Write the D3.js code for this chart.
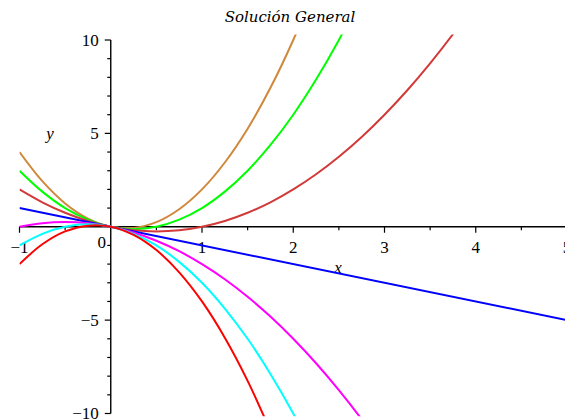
<!DOCTYPE html>
<html>
<head>
<meta charset="utf-8">
<script src="https://d3js.org/d3.v7.min.js"></script>
<style>
  body { margin: 0; background: #ffffff; }
</style>
</head>
<body>
<div id="my_dataviz"></div>
<script>
// sample points (x, then y for each curve)
var xs = [-1, -0.75, -0.5, -0.25, 0, 0.25, 0.5, 0.75, 1, 1.25, 1.5, 1.75, 2, 2.25, 2.5, 2.75, 3, 3.25, 3.5, 3.75, 4];

var yC3  = [4, 2.44, 1.25, 0.44, 0, -0.06, 0.25, 0.94, 2, 3.44, 5.25, 7.44, 10, 12.94];
var yC2  = [3, 1.88, 1, 0.38, 0, -0.13, 0, 0.38, 1, 1.88, 3, 4.38, 6, 7.88, 10, 12.38];
var yC1  = [2, 1.31, 0.75, 0.31, 0, -0.19, -0.25, -0.19, 0, 0.31, 0.75, 1.31, 2, 2.81, 3.75, 4.81, 6, 7.31, 8.75, 10.31, 12];
var lineX = [-1, 5];
var yC0  = [1, -5];
var yCm1 = [0, 0.19, 0.25, 0.19, 0, -0.31, -0.75, -1.31, -2, -2.81, -3.75, -4.81, -6, -7.31, -8.75, -10.31, -12];
var yCm2 = [-1, -0.38, 0, 0.13, 0, -0.38, -1, -1.88, -3, -4.38, -6, -7.88, -10, -12.38];
var yCm3 = [-2, -0.94, -0.25, 0.06, 0, -0.44, -1.25, -2.44, -4, -5.94, -8.25, -10.94];

var curveColors = ["#d0883c", "#00ff00", "#d23a3a", "#0000ff", "#ff00ff", "#00ffff", "#ff0000"];

var xMajor = [-1, 1, 2, 3, 4, 5];
var xMinor = [-0.5, 0.5, 1.5, 2.5, 3.5, 4.5];
var yMajor = [-10, -5, 5, 10];
var yMinor = [-9, -8, -7, -6, -4, -3, -2, -1, 1, 2, 3, 4, 6, 7, 8, 9];

var width = 565, height = 420;

var svg = d3.select("#my_dataviz")
    .append("svg")
    .attr("width", width)
    .attr("height", height);

var x = d3.scaleLinear()
    .domain([-1, 5])
    .range([19.5, 567]);

var y = d3.scaleLinear()
    .domain([-10, 10])
    .range([413.5, 40]);

// title
svg.append("text")
    .attr("x", 290)
    .attr("y", 22)
    .attr("text-anchor", "middle")
    .style("font-family", "DejaVu Serif")
    .style("font-style", "italic")
    .style("font-size", "15px")
    .text("Solución General");

// clip so the curves stop just past the view
svg.append("clipPath")
    .attr("id", "clip")
    .append("rect")
    .attr("x", x(-1))
    .attr("y", y(10.3))
    .attr("width", x(5) - x(-1))
    .attr("height", y(-10.15) - y(10.3));

var series = [
    {xv: xs, yv: yC3},
    {xv: xs, yv: yC2},
    {xv: xs, yv: yC1},
    {xv: lineX, yv: yC0},
    {xv: xs, yv: yCm1},
    {xv: xs, yv: yCm2},
    {xv: xs, yv: yCm3}
];

var line = d3.line()
    .x(function(d) { return x(d[0]); })
    .y(function(d) { return y(d[1]); })
    .curve(d3.curveCatmullRom);

// axes
var axisColor = "#000";
svg.append("line")
    .attr("x1", x(-1)).attr("x2", width)
    .attr("y1", y(0)).attr("y2", y(0))
    .attr("stroke", axisColor).attr("stroke-width", 1.4);
svg.append("line")
    .attr("x1", x(0)).attr("x2", x(0))
    .attr("y1", y(10)).attr("y2", y(-10))
    .attr("stroke", axisColor).attr("stroke-width", 1.4);

svg.selectAll(".xmaj")
    .data(xMajor).enter().append("line")
    .attr("x1", function(d) { return x(d); })
    .attr("x2", function(d) { return x(d); })
    .attr("y1", y(0)).attr("y2", y(0) + 6)
    .attr("stroke", axisColor).attr("stroke-width", 1.2);
svg.selectAll(".xmin")
    .data(xMinor).enter().append("line")
    .attr("x1", function(d) { return x(d); })
    .attr("x2", function(d) { return x(d); })
    .attr("y1", y(0)).attr("y2", y(0) + 3.5)
    .attr("stroke", axisColor).attr("stroke-width", 1.2);
svg.selectAll(".ymaj")
    .data(yMajor).enter().append("line")
    .attr("x1", x(0) - 6).attr("x2", x(0))
    .attr("y1", function(d) { return y(d); })
    .attr("y2", function(d) { return y(d); })
    .attr("stroke", axisColor).attr("stroke-width", 1.2);
svg.selectAll(".ymin")
    .data(yMinor).enter().append("line")
    .attr("x1", x(0) - 3.5).attr("x2", x(0))
    .attr("y1", function(d) { return y(d); })
    .attr("y2", function(d) { return y(d); })
    .attr("stroke", axisColor).attr("stroke-width", 1.2);

// tick labels
var fmt = d3.format("d");
svg.selectAll(".xlab")
    .data(xMajor).enter().append("text")
    .attr("x", function(d) { return x(d); })
    .attr("y", y(0) + 26)
    .attr("text-anchor", "middle")
    .style("font-family", "Liberation Serif")
    .style("font-size", "17px")
    .text(function(d) { return fmt(d); });
svg.append("text")
    .attr("x", x(0) - 9)
    .attr("y", y(0) + 21)
    .attr("text-anchor", "middle")
    .style("font-family", "Liberation Serif")
    .style("font-size", "17px")
    .text("0");
svg.selectAll(".ylab")
    .data(yMajor).enter().append("text")
    .attr("x", x(0) - 12)
    .attr("y", function(d) { return y(d); })
    .attr("dy", "0.35em")
    .attr("text-anchor", "end")
    .style("font-family", "Liberation Serif")
    .style("font-size", "17px")
    .text(function(d) { return fmt(d); });

// axis names
svg.append("text")
    .attr("x", 50).attr("y", 139)
    .attr("text-anchor", "middle")
    .style("font-family", "Liberation Serif")
    .style("font-style", "italic")
    .style("font-size", "17px")
    .text("y");
svg.append("text")
    .attr("x", 338).attr("y", 273)
    .attr("text-anchor", "middle")
    .style("font-family", "Liberation Serif")
    .style("font-style", "italic")
    .style("font-size", "17px")
    .text("x");

// the curves
svg.append("g")
    .attr("clip-path", "url(#clip)")
    .selectAll("path")
    .data(series)
    .enter()
    .append("path")
    .attr("fill", "none")
    .attr("stroke", function(d, i) { return curveColors[i]; })
    .attr("stroke-width", 2)
    .attr("d", function(d) {
        return line(d.yv.map(function(v, i) { return [d.xv[i], v]; }));
    });
</script>
</body>
</html>
